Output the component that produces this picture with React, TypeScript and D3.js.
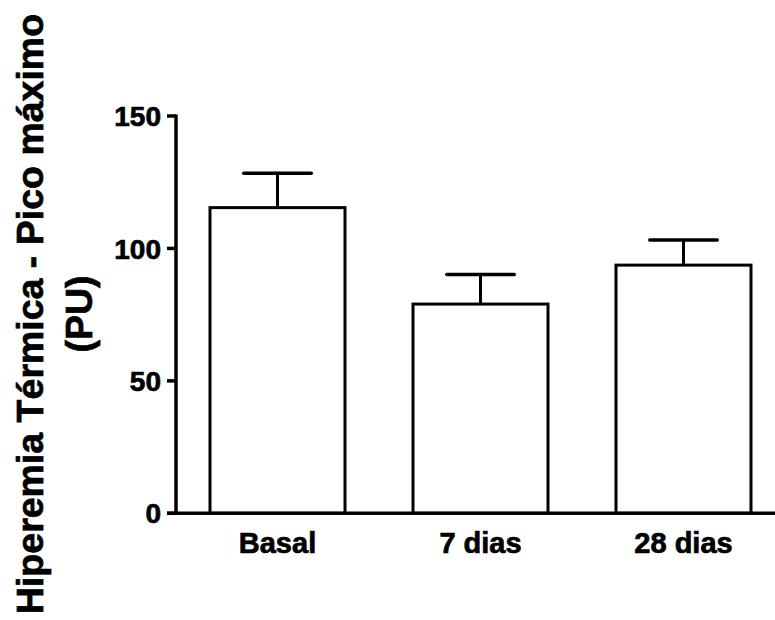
import React from "react";
import * as d3 from "d3";

const categories = ["Basal", "7 dias", "28 dias"];
const means = [115.4, 79.0, 93.7];
const errors = [13.0, 11.2, 9.5];
const yTicks = [0, 50, 100, 150];
const yTitleLines = ["Hiperemia Térmica - Pico máximo", "(PU)"];

const W = 775;
const H = 620;
const FONT = "'Liberation Sans', Arial, Helvetica, sans-serif";

export default function App() {
  const x0 = 176;
  const y = d3.scaleLinear().domain([0, 150]).range([513.3, 116]);
  const x = d3
    .scaleBand<string>()
    .domain(categories)
    .range([x0, 785])
    .paddingInner(0.335)
    .paddingOuter(0.1675);
  const bw = x.bandwidth();
  const capW = bw / 2;

  return (
    <svg
      width={W}
      height={H}
      style={{ position: "absolute", left: 0, top: 0, display: "block", background: "#fff" }}
      fontFamily={FONT}
    >
      <rect x={0} y={0} width={W} height={H} fill="#fff" />
      {categories.map((c, i) => {
        const bx = x(c)!;
        const cx = bx + bw / 2;
        const top = y(means[i]);
        const etop = y(means[i] + errors[i]);
        return (
          <g key={c}>
            <line x1={cx} x2={cx} y1={top} y2={etop} stroke="#000" strokeWidth={3} />
            <line
              x1={cx - capW / 2}
              x2={cx + capW / 2}
              y1={etop}
              y2={etop}
              stroke="#000"
              strokeWidth={3.5}
              strokeLinecap="round"
            />
            <rect
              x={bx}
              y={top}
              width={bw}
              height={y(0) - top}
              fill="#fff"
              stroke="#000"
              strokeWidth={3}
            />
          </g>
        );
      })}
      <line x1={x0} x2={x0} y1={y(150) - 1.5} y2={y(0) + 1.5} stroke="#000" strokeWidth={3.5} />
      {yTicks.map((t) => (
        <g key={t}>
          <line x1={x0 - 9} x2={x0} y1={y(t)} y2={y(t)} stroke="#000" strokeWidth={3.5} />
          <text
            x={x0 - 15}
            y={y(t)}
            dy="0.36em"
            textAnchor="end"
            fontSize={28}
            fontWeight="bold"
            fill="#000"
            stroke="#000"
            strokeWidth={0.7}
          >
            {t}
          </text>
        </g>
      ))}
      <line x1={x0 - 9} x2={W} y1={y(0)} y2={y(0)} stroke="#000" strokeWidth={3.5} />
      {categories.map((c) => (
        <text
          key={c}
          x={x(c)! + bw / 2}
          y={553}
          textAnchor="middle"
          fontSize={29}
          fontWeight="bold"
          fill="#000"
          stroke="#000"
          strokeWidth={0.7}
        >
          {c}
        </text>
      ))}
      <g transform="translate(43,314) rotate(-90)">
        <text x={0} y={0} textAnchor="middle" fontSize={37.5} fontWeight="bold" fill="#000" stroke="#000" strokeWidth={0.7}>
          {yTitleLines[0]}
        </text>
        <text x={0} y={49} textAnchor="middle" fontSize={37.5} fontWeight="bold" fill="#000" stroke="#000" strokeWidth={0.7}>
          {yTitleLines[1]}
        </text>
      </g>
    </svg>
  );
}
